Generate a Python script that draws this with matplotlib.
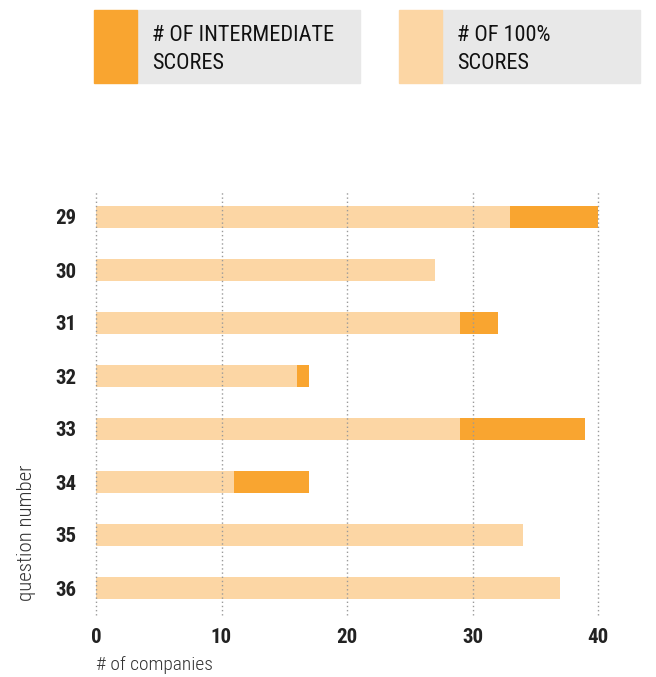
import matplotlib.pyplot as plt
from matplotlib.patches import Rectangle
import numpy as np

questions = ['29', '30', '31', '32', '33', '34', '35', '36']
full_scores = [33, 27, 29, 16, 29, 11, 34, 37]
intermediate_scores = [7, 0, 3, 1, 10, 6, 0, 0]

light = '#FCD6A4'
orange = '#F9A530'
narrow = ['Roboto Condensed', 'Liberation Sans Narrow', 'Liberation Sans', 'DejaVu Sans']

W, H = 656, 677
fig = plt.figure(figsize=(W / 100, H / 100), dpi=100)
ax = fig.add_axes([96 / W, 1 - 614.5 / H, 502 / W, 424 / H])

y = np.arange(len(questions))
ax.barh(y, full_scores, height=0.415, color=light, zorder=1)
ax.barh(y, intermediate_scores, left=full_scores, height=0.415, color=orange, zorder=1)

ax.set_xlim(0, 40)
ax.set_ylim(len(questions) - 0.5, -0.5)
ax.set_xticks([0, 10, 20, 30, 40])
ax.set_yticks(y)
ax.set_yticklabels(questions)
ax.xaxis.grid(True, linestyle=(0, (1, 2)), color='#9a9a9a', linewidth=1, zorder=3)
ax.set_axisbelow(False)
for gl in ax.get_xgridlines():
    gl.set_clip_on(False)
for s in ax.spines.values():
    s.set_visible(False)
ax.tick_params(length=0, colors='#222222')
ax.tick_params(axis='x', pad=10)
ax.tick_params(axis='y', pad=14)
for lab in ax.get_xticklabels() + ax.get_yticklabels():
    lab.set_family(narrow)
    lab.set_fontweight('bold')
    lab.set_fontsize(15)

fig.text(96 / W, 1 - 665 / H, '# of companies', family=narrow, fontsize=14,
         fontweight='light', color='#333333', va='center', ha='left')
fig.text(27 / W, 1 - 533 / H, 'question number', family=narrow, fontsize=15,
         fontweight='light', color='#333333', va='center', ha='center', rotation=90)

# legend boxes across the top
legend_items = [(94, 360, orange, '# OF INTERMEDIATE\nSCORES'),
                (399, 640, light, '# OF 100%\nSCORES')]
for x0, x1, col, label in legend_items:
    fig.patches.append(Rectangle(((x0 + 43) / W, 1 - 83 / H), (x1 - x0 - 43) / W, 73 / H,
                                 transform=fig.transFigure, color='#e8e8e8'))
    fig.patches.append(Rectangle((x0 / W, 1 - 83 / H), 43 / W, 73 / H,
                                 transform=fig.transFigure, color=col))
    fig.text((x0 + 58) / W, 1 - 49.5 / H, label, family=narrow, fontsize=16,
             fontweight='normal', color='#111111', va='center', ha='left',
             linespacing=1.45)

plt.savefig('out.png', dpi=100)
